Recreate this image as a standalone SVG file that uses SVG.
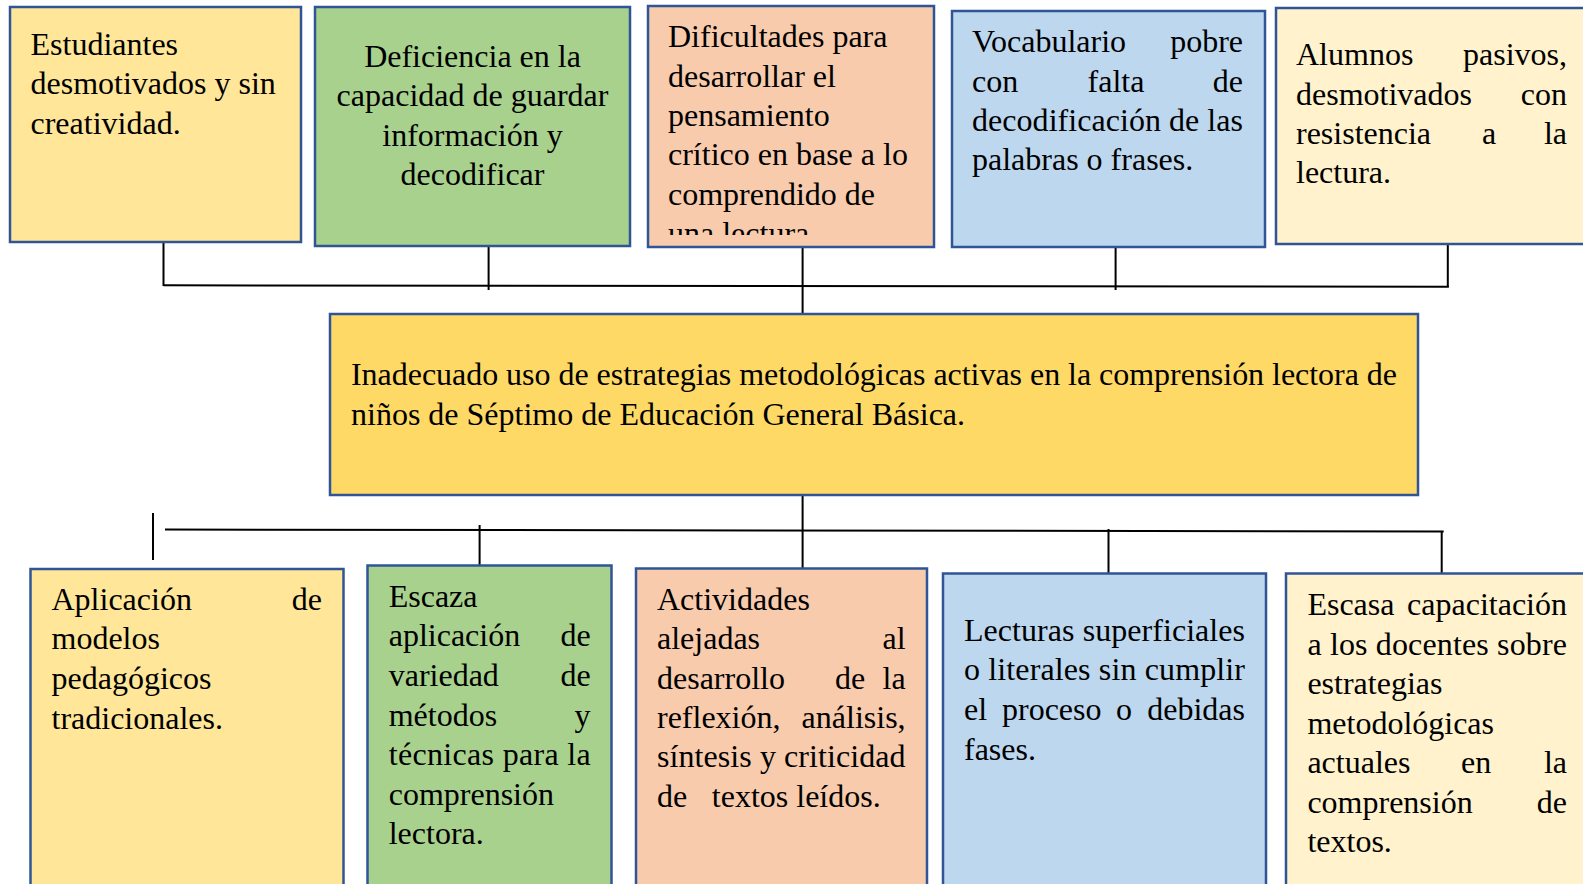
<svg xmlns="http://www.w3.org/2000/svg" width="1583" height="884" viewBox="0 0 1583 884">
<style>
.box{stroke:#2F5597;stroke-width:2.5}
.y{fill:#FFE699}.g{fill:#A9D18E}.s{fill:#F8CBAD}.b{fill:#BDD7EE}.l{fill:#FFF2CC}.c{fill:#FFD966}
text{font-family:"Liberation Serif","Times New Roman",serif;font-size:32px;fill:#000}
.e{text-anchor:end}.m{text-anchor:middle}
.con line{stroke:#000;stroke-width:2}
</style>
<defs>
<clipPath id="clip3"><rect x="648" y="6" width="286" height="229"/></clipPath>
</defs>
<rect width="1583" height="884" fill="#fff"/>
<g class="con">
<line x1="163.5" y1="242" x2="163.5" y2="286"/>
<line x1="488.6" y1="246" x2="488.6" y2="290"/>
<line x1="802.6" y1="246" x2="802.6" y2="314"/>
<line x1="1115.6" y1="247" x2="1115.6" y2="290"/>
<line x1="1447.8" y1="244" x2="1447.8" y2="287"/>
<line x1="163.5" y1="285.3" x2="1448.8" y2="286.8"/>
<line x1="802.6" y1="495" x2="802.6" y2="574"/>
<line x1="165" y1="529.5" x2="1443.7" y2="531.5"/>
<line x1="153" y1="513" x2="153" y2="560"/>
<line x1="479.6" y1="525" x2="479.6" y2="566"/>
<line x1="1108.5" y1="529" x2="1108.5" y2="573"/>
<line x1="1441.7" y1="531.5" x2="1441.7" y2="578"/>
</g>
<g id="n1"><rect class="box y" x="10" y="7" width="291" height="235"/>
<text x="30.5" y="54.5">Estudiantes</text>
<text x="30.5" y="94">desmotivados y sin</text>
<text x="30.5" y="134">creatividad.</text></g>
<g id="n2"><rect class="box g" x="315" y="7" width="315" height="239"/>
<text class="m" x="472.5" y="67">Deficiencia en la</text>
<text class="m" x="472.5" y="106">capacidad de guardar</text>
<text class="m" x="472.5" y="146">información y</text>
<text class="m" x="472.5" y="185">decodificar</text></g>
<g id="n3"><rect class="box s" x="648" y="6" width="286" height="241"/>
<g clip-path="url(#clip3)">
<text x="668" y="47">Dificultades para</text>
<text x="668" y="86.5">desarrollar el</text>
<text x="668" y="126">pensamiento</text>
<text x="668" y="165">crítico en base a lo</text>
<text x="668" y="204.5">comprendido de</text>
<text x="668" y="244">una lectura</text></g></g>
<g id="n4"><rect class="box b" x="952" y="11" width="313" height="236"/>
<text x="972" y="52">Vocabulario</text><text class="e" x="1243" y="52">pobre</text>
<text x="972" y="92">con</text><text class="m" x="1116" y="92">falta</text><text class="e" x="1243" y="92">de</text>
<text x="972" y="131" textLength="271" lengthAdjust="spacing">decodificación de las</text>
<text x="972" y="170">palabras o frases.</text></g>
<g id="n5"><rect class="box l" x="1276" y="8" width="330" height="236"/>
<text x="1296" y="65">Alumnos</text><text class="e" x="1567" y="65">pasivos,</text>
<text x="1296" y="104.5">desmotivados</text><text class="e" x="1567" y="104.5">con</text>
<text x="1296" y="144">resistencia</text><text class="m" x="1489" y="144">a</text><text class="e" x="1567" y="144">la</text>
<text x="1296" y="183">lectura.</text></g>
<g id="center"><rect class="box c" x="330" y="314" width="1088" height="181"/>
<text x="351" y="385" textLength="1046" lengthAdjust="spacing">Inadecuado uso de estrategias metodológicas activas en la comprensión lectora de</text>
<text x="351" y="424.5">niños de Séptimo de Educación General Básica.</text></g>
<g id="b1"><rect class="box y" x="30.5" y="569" width="313" height="330"/>
<text x="51.5" y="610">Aplicación</text><text class="e" x="322" y="610">de</text>
<text x="51.5" y="649">modelos</text>
<text x="51.5" y="689">pedagógicos</text>
<text x="51.5" y="728.5">tradicionales.</text></g>
<g id="b2"><rect class="box g" x="367.5" y="565.5" width="244" height="330"/>
<text x="388.7" y="607">Escaza</text>
<text x="388.7" y="646">aplicación</text><text class="e" x="590.6" y="646">de</text>
<text x="388.7" y="685.5">variedad</text><text class="e" x="590.6" y="685.5">de</text>
<text x="388.7" y="725.5">métodos</text><text class="e" x="590.6" y="725.5">y</text>
<text x="388.7" y="765" textLength="202" lengthAdjust="spacing">técnicas para la</text>
<text x="388.7" y="804.5">comprensión</text>
<text x="388.7" y="844">lectora.</text></g>
<g id="b3"><rect class="box s" x="636" y="568.5" width="291" height="330"/>
<text x="657" y="610">Actividades</text>
<text x="657" y="649">alejadas</text><text class="e" x="905.6" y="649">al</text>
<text x="657" y="688.5">desarrollo</text><text x="835" y="688.5">de</text><text class="e" x="905.6" y="688.5">la</text>
<text x="657" y="728">reflexión,</text><text class="e" x="905.6" y="728">análisis,</text>
<text x="657" y="767" textLength="248.6" lengthAdjust="spacing">síntesis y criticidad</text>
<text x="657" y="806.5">de</text><text x="711.8" y="806.5">textos leídos.</text></g>
<g id="b4"><rect class="box b" x="943" y="573.5" width="323" height="330"/>
<text x="964" y="640.5" textLength="281" lengthAdjust="spacing">Lecturas superficiales</text>
<text x="964" y="680" textLength="281" lengthAdjust="spacing">o literales sin cumplir</text>
<text x="964" y="720">el</text><text x="1002" y="720">proceso</text><text x="1116" y="720">o</text><text class="e" x="1245" y="720">debidas</text>
<text x="964" y="759.5">fases.</text></g>
<g id="b5"><rect class="box l" x="1286" y="573.5" width="330" height="330"/>
<text x="1307.4" y="615">Escasa</text><text class="e" x="1567" y="615">capacitación</text>
<text x="1307.4" y="654.5" textLength="259.6" lengthAdjust="spacing">a los docentes sobre</text>
<text x="1307.4" y="694">estrategias</text>
<text x="1307.4" y="733.5">metodológicas</text>
<text x="1307.4" y="773">actuales</text><text x="1461" y="773">en</text><text class="e" x="1567" y="773">la</text>
<text x="1307.4" y="812.5">comprensión</text><text class="e" x="1567" y="812.5">de</text>
<text x="1307.4" y="852">textos.</text></g>
</svg>
